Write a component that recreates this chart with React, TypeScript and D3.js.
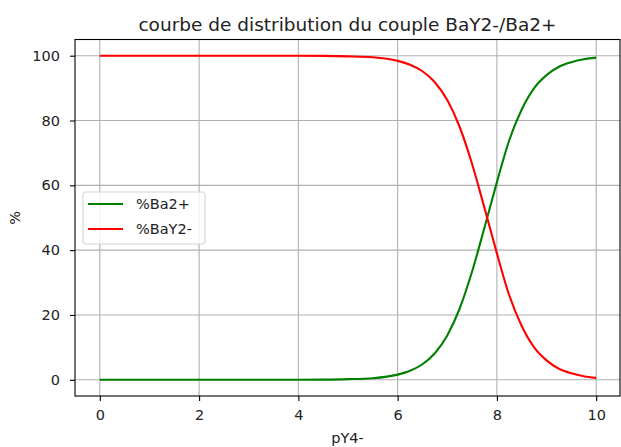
import React, { useEffect, useRef } from "react";
import * as d3 from "d3";

// pY4- values (finer steps where the curves turn)
const pY = [0, 0.5, 1, 1.5, 2, 2.5, 3, 3.5, 4, 4.5, 5, 5.5, 6, 6.25, 6.5, 6.75, 7, 7.25, 7.5, 7.75, 8, 8.25, 8.5, 8.75, 9, 9.25, 9.5, 9.75, 10];
const pctBa = [0, 0, 0, 0, 0, 0, 0, 0, 0, 0.05, 0.2, 0.5, 1.6, 2.8, 4.8, 8.2, 13.7, 22, 33.4, 47, 61, 74, 83.4, 90, 94, 96.6, 98, 98.9, 99.4];
const pctBaY = [100, 100, 100, 100, 100, 100, 100, 100, 100, 99.95, 99.8, 99.5, 98.4, 97.2, 95.2, 91.8, 86.3, 78, 66.6, 53, 39, 26, 16.6, 10, 6, 3.4, 2, 1.1, 0.6];
const xTicks = [0, 2, 4, 6, 8, 10];
const yTicks = [0, 20, 40, 60, 80, 100];
const seriesNames = ["%Ba2+", "%BaY2-"];
const seriesColors = ["#008000", "#ff0000"];

const W = 621, H = 447;
const left = 75, right = 620, top = 39.5, bottom = 396;

export default function App() {
  const ref = useRef<SVGSVGElement>(null);

  useEffect(() => {
    const svg = d3.select(ref.current);
    svg.selectAll("*").remove();
    const font = "DejaVu Sans, sans-serif";

    const x = d3.scaleLinear().domain([-0.5, 10.5]).range([left, right + 1]);
    const y = d3.scaleLinear().domain([-5, 105]).range([bottom, top]);

    svg.append("rect").attr("width", W).attr("height", H).attr("fill", "#fff");

    // grid
    const g = svg.append("g");
    g.selectAll(".gx").data(xTicks).join("line")
      .attr("x1", (d) => x(d)).attr("x2", (d) => x(d))
      .attr("y1", top).attr("y2", bottom)
      .attr("stroke", "#b0b0b0").attr("stroke-width", 1.1);
    g.selectAll(".gy").data(yTicks).join("line")
      .attr("y1", (d) => y(d)).attr("y2", (d) => y(d))
      .attr("x1", left).attr("x2", right)
      .attr("stroke", "#b0b0b0").attr("stroke-width", 1.1);

    // curves
    const series = [pctBa, pctBaY];
    const line = d3.line<number>()
      .x((d, i) => x(pY[i]))
      .y((d) => y(d))
      .curve(d3.curveMonotoneX);
    series.forEach((s, k) => {
      svg.append("path").datum(s)
        .attr("d", line)
        .attr("fill", "none")
        .attr("stroke", seriesColors[k])
        .attr("stroke-width", 2.1);
    });

    // frame
    svg.append("rect")
      .attr("x", left).attr("y", top)
      .attr("width", right - left).attr("height", bottom - top)
      .attr("fill", "none").attr("stroke", "#000").attr("stroke-width", 1.1);

    // axes
    const ax = svg.append("g").attr("transform", `translate(0,${bottom})`)
      .call(d3.axisBottom(x).tickValues(xTicks).tickSize(5).tickPadding(9).tickFormat(d3.format("d")));
    const ay = svg.append("g").attr("transform", `translate(${left},0)`)
      .call(d3.axisLeft(y).tickValues(yTicks).tickSize(5).tickPadding(10).tickFormat(d3.format("d")));
    [ax, ay].forEach((a) => {
      a.select(".domain").remove();
      a.selectAll("line").attr("stroke", "#000").attr("stroke-width", 1.1);
      a.selectAll("text").attr("font-family", font).attr("font-size", 14.5).attr("fill", "#222");
    });

    // title and labels
    svg.append("text").attr("x", (left + right) / 2).attr("y", 31)
      .attr("text-anchor", "middle").attr("font-family", font).attr("font-size", 18.5).attr("fill", "#222")
      .text("courbe de distribution du couple BaY2-/Ba2+");
    svg.append("text").attr("x", (left + right) / 2).attr("y", 443)
      .attr("text-anchor", "middle").attr("font-family", font).attr("font-size", 14.5).attr("fill", "#222")
      .text("pY4-");
    svg.append("text").attr("transform", `translate(20,${(top + bottom) / 2}) rotate(-90)`)
      .attr("text-anchor", "middle").attr("font-family", font).attr("font-size", 14.5).attr("fill", "#222")
      .text("%");

    // legend
    const lg = svg.append("g").attr("transform", "translate(83,192)");
    lg.append("rect").attr("width", 122).attr("height", 52).attr("rx", 3)
      .attr("fill", "#fff").attr("fill-opacity", 0.8)
      .attr("stroke", "#d6d6d6").attr("stroke-width", 1.1);
    seriesNames.forEach((n, i) => {
      const yy = 12 + i * 25;
      lg.append("line").attr("x1", 5).attr("x2", 40).attr("y1", yy).attr("y2", yy)
        .attr("stroke", seriesColors[i]).attr("stroke-width", 2.1);
      lg.append("text").attr("x", 53).attr("y", yy + 5)
        .attr("font-family", font).attr("font-size", 14.5).attr("fill", "#222")
        .text(n);
    });
  }, []);

  return (
    <svg ref={ref} width={W} height={H}
      style={{ position: "absolute", left: 0, top: 0, display: "block" }} />
  );
}
